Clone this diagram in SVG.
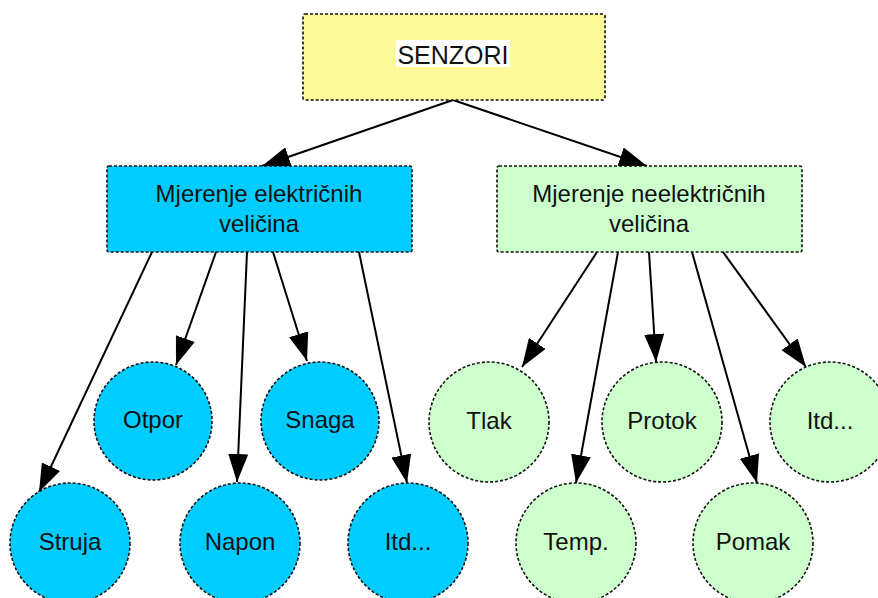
<svg xmlns="http://www.w3.org/2000/svg" width="878" height="598" viewBox="0 0 878 598">
  <style>
    .box { stroke: #111; stroke-width: 1.6; stroke-dasharray: 3 2; }
    .root { fill: #FFFA99; }
    .el { fill: #00CCFF; }
    .nel { fill: #CCFFCC; }
    .lbl { font-family: "Liberation Sans", Arial, sans-serif; font-size: 24px; fill: #111; text-anchor: middle; }
    .edge { stroke: #000; stroke-width: 2; fill: none; marker-end: url(#arrow); }
  </style>
  <defs>
    <marker id="arrow" markerUnits="userSpaceOnUse" markerWidth="28" markerHeight="20" refX="28" refY="10" orient="auto">
      <path d="M0,0 L28,10 L0,20 Z" fill="#000"/>
    </marker>
  </defs>
  <rect width="878" height="598" fill="#fff"/>

  <g id="connectors">
    <line class="edge" x1="453" y1="100" x2="262" y2="166"/>
    <line class="edge" x1="453" y1="100" x2="647" y2="166"/>
    <line class="edge" x1="152" y1="252" x2="39" y2="492"/>
    <line class="edge" x1="216" y1="252" x2="176" y2="365"/>
    <line class="edge" x1="247" y1="252" x2="237" y2="482"/>
    <line class="edge" x1="273" y1="252" x2="307" y2="361"/>
    <line class="edge" x1="359" y1="252" x2="407" y2="483"/>
    <line class="edge" x1="597" y1="252" x2="522" y2="367"/>
    <line class="edge" x1="618" y1="252" x2="576" y2="483"/>
    <line class="edge" x1="649" y1="252" x2="656" y2="362"/>
    <line class="edge" x1="692" y1="252" x2="757" y2="483"/>
    <line class="edge" x1="723" y1="252" x2="806" y2="367"/>
  </g>

  <g id="senzori">
    <rect class="box root" x="303" y="14" width="302" height="86" rx="2"/>
    <rect x="396" y="40" width="114" height="27" fill="#fff"/>
    <text class="lbl" x="453" y="64" style="font-size:25px">SENZORI</text>
  </g>

  <g id="elektricne">
    <rect class="box el" x="107" y="166" width="305" height="86" rx="2"/>
    <text class="lbl" x="259" y="202">Mjerenje električnih</text>
    <text class="lbl" x="259" y="232">veličina</text>
  </g>

  <g id="neelektricne">
    <rect class="box nel" x="497" y="166" width="305" height="86" rx="2"/>
    <text class="lbl" x="649" y="202">Mjerenje neelektričnih</text>
    <text class="lbl" x="649" y="232">veličina</text>
  </g>

  <g id="struja"><circle class="box el" cx="70" cy="543" r="60"/><text class="lbl" x="70" y="550">Struja</text></g>
  <g id="otpor"><circle class="box el" cx="153" cy="421" r="59"/><text class="lbl" x="153" y="428">Otpor</text></g>
  <g id="napon"><circle class="box el" cx="240" cy="543" r="60"/><text class="lbl" x="240" y="550">Napon</text></g>
  <g id="snaga"><circle class="box el" cx="320" cy="421" r="59"/><text class="lbl" x="320" y="428">Snaga</text></g>
  <g id="itd-el"><circle class="box el" cx="408" cy="543" r="60"/><text class="lbl" x="408" y="550">Itd...</text></g>

  <g id="tlak"><circle class="box nel" cx="489" cy="422" r="60"/><text class="lbl" x="489" y="429">Tlak</text></g>
  <g id="temp"><circle class="box nel" cx="576" cy="543" r="60"/><text class="lbl" x="576" y="550">Temp.</text></g>
  <g id="protok"><circle class="box nel" cx="662" cy="422" r="60"/><text class="lbl" x="662" y="429">Protok</text></g>
  <g id="pomak"><circle class="box nel" cx="753" cy="543" r="60"/><text class="lbl" x="753" y="550">Pomak</text></g>
  <g id="itd-nel"><circle class="box nel" cx="830" cy="422" r="60"/><text class="lbl" x="830" y="429">Itd...</text></g>
</svg>
